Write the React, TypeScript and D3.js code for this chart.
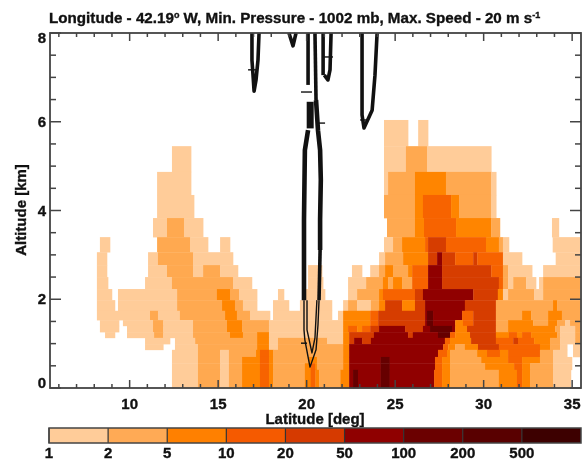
import React from "react";
import * as d3 from "d3";

const W = 582, H = 461;
const altEdges = [6.04, 5.45, 4.87, 4.35, 3.83, 3.40, 3.06, 2.77, 2.50, 2.23, 1.98, 1.74, 1.53, 1.40, 1.26, 1.13, 0.99, 0.86, 0.70, 0.56, 0.41, 0];
type Run = [number, number];
const rows: Run[][] = [
  [[24.37,1],[25.73,0],[26.3,1],[26.86,0]],
  [[12.39,1],[13.47,0],[24.37,1],[25.61,2],[26.8,1],[30.43,0]],
  [[11.55,1],[13.47,0],[24.37,1],[24.6,2],[26.12,3],[27.87,2],[30.43,1],[30.71,0]],
  [[11.55,1],[13.64,0],[24.37,2],[26.12,3],[26.57,4],[28.16,3],[28.61,2],[30.43,1],[30.71,0]],
  [[11.32,1],[12.11,2],[13.07,1],[14.15,0],[24.54,2],[26.12,3],[26.63,4],[28.44,3],[30.43,2],[30.92,0],[33.86,1],[34.25,0]],
  [[8.32,1],[8.89,0],[11.55,2],[13.41,1],[14.43,0],[15.11,1],[15.67,0],[24.37,1],[24.88,2],[25.39,3],[26.69,4],[26.86,5],[27.87,4],[30.13,3],[30.86,2],[31.09,1],[31.43,0],[33.9,1],[35.44,0]],
  [[8.15,1],[8.72,0],[11.04,1],[11.6,2],[13.58,1],[15.84,0],[24.09,1],[24.43,2],[25.45,3],[26.86,5],[27.37,6],[27.65,5],[28.39,4],[29.41,5],[29.64,4],[31.09,1],[32.17,0],[34.07,1],[35.44,0]],
  [[8.15,1],[8.72,0],[11.04,1],[12.11,2],[13.58,1],[14.15,2],[15.11,1],[16.12,0],[20.08,1],[20.87,0],[22.56,1],[23.13,0],[23.59,1],[24.09,2],[24.43,3],[24.88,2],[25.73,3],[25.96,4],[26.86,6],[27.65,5],[30.43,4],[31.09,2],[31.38,1],[32.74,0],[33.36,1],[35.44,0]],
  [[8.15,1],[8.78,0],[10.87,1],[12.39,2],[15.84,1],[16.91,0],[20.08,1],[20.93,0],[22.34,1],[23.36,2],[24.31,3],[24.6,2],[24.88,3],[25.39,2],[25.96,4],[26.86,6],[27.65,5],[30.86,4],[31.09,2],[31.38,1],[31.67,2],[32.4,1],[32.96,0],[33.13,1],[33.36,2],[35.44,0]],
  [[8.15,1],[9.0,0],[9.34,1],[12.68,2],[14.93,3],[15.67,2],[16.18,1],[17.2,0],[18.38,1],[18.72,0],[19.9,1],[21.04,0],[22.34,1],[22.85,2],[24.09,3],[24.31,4],[26.12,5],[26.57,6],[29.41,5],[30.8,3],[31.09,1],[31.38,2],[32.85,1],[33.36,2],[35.44,0]],
  [[8.15,1],[9.17,0],[9.34,1],[12.68,2],[15.22,3],[15.95,2],[16.4,1],[17.2,0],[18.1,1],[19.0,0],[19.62,1],[21.43,0],[22.06,1],[22.34,2],[22.85,1],[23.63,2],[24.09,3],[24.43,5],[25.39,3],[26.12,5],[26.69,6],[28.94,5],[30.69,2],[33.92,3],[34.15,2],[35.44,0]],
  [[8.15,1],[11.15,2],[11.6,1],[12.84,2],[15.39,3],[16.06,2],[16.8,1],[17.93,0],[18.1,1],[21.43,0],[21.77,1],[22.06,3],[23.59,4],[24.04,5],[26.69,6],[26.8,7],[27.14,6],[28.78,4],[29.41,5],[30.69,2],[32.17,3],[32.68,2],[33.64,3],[34.42,2],[35.44,0]],
  [[8.32,1],[9.4,0],[9.62,1],[11.32,2],[11.9,1],[13.58,2],[15.5,3],[16.35,2],[17.87,1],[22.06,3],[23.59,4],[24.04,5],[26.69,6],[26.8,7],[27.14,6],[28.39,3],[28.83,4],[29.41,5],[30.69,2],[31.38,3],[32.8,2],[33.64,3],[34.15,2],[34.6,1],[34.88,2],[35.44,0]],
  [[8.32,1],[9.4,0],[9.85,1],[11.32,2],[11.9,1],[13.58,2],[15.5,3],[16.35,2],[17.87,1],[22.06,3],[22.34,4],[22.85,3],[23.13,4],[23.59,5],[24.09,6],[25.56,5],[26.57,6],[26.97,7],[28.21,6],[28.39,3],[29.06,5],[30.69,2],[31.38,3],[34.04,2],[34.32,1],[35.17,2],[35.44,0]],
  [[8.61,1],[9.17,0],[9.85,1],[11.38,2],[11.9,1],[13.58,2],[15.67,3],[16.4,2],[17.2,3],[17.87,1],[22.06,3],[22.4,5],[23.8,6],[25.73,5],[26.0,6],[27.42,7],[28.1,4],[28.39,3],[29.23,5],[30.69,3],[31.43,4],[31.88,3],[32.17,4],[32.68,3],[34.15,2],[34.32,1],[35.17,2],[35.44,0]],
  [[10.87,1],[12.28,0],[12.56,1],[13.7,2],[17.2,3],[17.87,1],[18.38,2],[21.15,1],[22.06,3],[22.4,5],[22.68,6],[23.13,5],[23.63,6],[27.81,4],[28.1,3],[29.29,5],[30.69,4],[31.67,5],[31.94,4],[32.85,3],[33.75,2],[34.32,1],[35.17,2],[35.44,0]],
  [[10.87,1],[11.9,0],[12.56,1],[13.86,2],[17.2,3],[17.87,1],[18.38,2],[22.06,3],[22.4,6],[27.71,4],[28.0,3],[28.39,2],[28.94,3],[29.68,5],[30.86,4],[33.18,3],[33.75,2],[34.32,1],[34.72,0],[35.05,1],[35.44,0]],
  [[12.39,1],[13.86,2],[15.11,1],[15.61,2],[17.14,3],[17.36,4],[17.87,3],[18.1,2],[22.06,3],[22.4,6],[27.42,4],[27.93,3],[28.1,2],[29.63,3],[30.19,4],[30.92,3],[31.38,4],[33.18,2],[33.92,1],[34.72,0],[35.05,1],[35.44,0]],
  [[12.39,1],[13.86,2],[15.11,1],[15.61,2],[16.35,3],[17.36,4],[17.87,3],[18.1,2],[20.12,3],[20.58,2],[22.06,3],[22.4,6],[24.18,7],[24.69,6],[27.25,4],[27.65,3],[28.1,2],[29.86,3],[31.38,4],[32.17,3],[33.18,2],[33.92,1],[34.99,0]],
  [[12.39,1],[13.86,2],[15.11,1],[15.61,2],[16.35,3],[17.36,4],[17.87,3],[18.1,2],[19.9,3],[20.23,4],[20.47,3],[20.58,2],[22.06,3],[22.4,6],[24.18,7],[24.69,6],[27.25,4],[27.65,3],[28.1,2],[30.08,3],[31.72,4],[32.17,3],[32.62,2],[33.92,1],[34.99,0]],
  [[12.39,1],[13.86,2],[15.11,1],[15.61,2],[16.35,3],[17.36,4],[17.87,3],[18.1,2],[19.9,3],[20.23,4],[20.5,3],[20.7,2],[21.9,3],[22.4,6],[22.62,7],[22.9,6],[24.18,7],[24.69,6],[27.2,4],[27.65,3],[28.1,2],[30.86,3],[31.88,4],[32.17,3],[32.62,2],[33.92,1],[34.93,0]],
];
const levelColors = ["none", "#FFCC99", "#FFA950", "#FF8500", "#F76300", "#D63D00", "#900000", "#660000"];
const barColors = ["#FFCC99", "#FFAA55", "#FF8000", "#F55A00", "#D63A00", "#8F0000", "#6B0000", "#590000", "#3D0000"];
const barLabels = ["1", "2", "5", "10", "20", "50", "100", "200", "500"];
const xTicks = [10, 15, 20, 25, 30, 35];
const yTicks = [0, 2, 4, 6, 8];

type Pt = [number, number];
const contourHeavy: Pt[][] = [
  [[20.53,6.49],[20.64,5.81],[20.76,5.36],[20.8,4.69],[20.76,3.79],[20.76,3.11]],
  [[20.08,5.81],[19.9,5.36],[19.85,3.79],[19.85,1.98]],
  [[20.2,6.45],[20.2,5.85]],
];
const contourThick: Pt[][] = [
  [[16.91,8],[16.91,7.39],[16.97,7.05],[17.03,6.69],[17.14,6.94],[17.25,7.39],[17.31,8]],
  [[19.0,8],[19.23,7.71],[19.4,8]],
  [[20.08,8],[20.08,6.83]],
  [[20.47,8],[20.53,6.49]],
  [[20.76,3.11],[20.7,1.98]],
  [[20.93,8],[20.93,7.05]],
  [[21.38,8],[21.32,7.17],[21.2,6.94],[21.0,7.05]],
  [[23.13,8],[23.13,6.15],[23.24,5.86],[23.7,6.26],[23.86,7.05],[23.98,8]],
];
const contourThin: Pt[][] = [
  [[19.85,1.98],[19.85,1.31],[19.9,1.08],[20.19,0.47],[20.53,0.86],[20.64,1.42],[20.7,1.98]],
  [[20.02,1.98],[20.02,1.31],[20.3,0.79],[20.47,1.13],[20.58,1.98]],
];
const contourDashes: Pt[][] = [
  [[16.69,7.17],[17.2,7.17]],
  [[19.68,6.67],[20.3,6.67]],
  [[20.64,5.97],[21.04,5.97]],
  [[20.87,7.46],[21.49,7.46]],
  [[23.02,6.04],[23.41,6.04]],
  [[19.68,1.01],[20.02,1.01]],
];

const x = d3.scaleLinear().domain([5.5, 35.5]).range([50, 581]);
const y = d3.scaleLinear().domain([0, 8]).range([388, 33]);
const barX = d3.scaleBand<number>().domain(d3.range(9)).range([49, 581]);
const line = d3.line<Pt>().x(d => x(d[0])).y(d => y(d[1]));
const axisColor = "#444";
const font = "'Liberation Sans', Arial, sans-serif";

export default function App() {
  const cells: React.ReactNode[] = [];
  rows.forEach((runs, r) => {
    runs.forEach((run, i) => {
      if (run[1] === 0 || i === runs.length - 1) return;
      const x0 = x(run[0]), x1 = x(runs[i + 1][0]);
      const y0 = y(altEdges[r]), y1 = y(altEdges[r + 1]);
      cells.push(<rect key={r + "-" + i} x={x0} y={y0} width={x1 - x0 + 0.3} height={y1 - y0 + 0.3} fill={levelColors[run[1]]} />);
    });
  });
  const xMinor = d3.range(6, 36);
  const yMinor = d3.range(0, 8.01, 0.5);
  const textStroke = { stroke: "#111", strokeWidth: 0.35 };
  return (
    <svg width={W} height={H} viewBox={`0 0 ${W} ${H}`} style={{ position: "absolute", left: 0, top: 0, filter: "blur(0.5px)" }} fontFamily={font} fontWeight="bold">
      <rect x={0} y={0} width={W} height={H} fill="#fff" />
      <text x={49} y={23} fontSize={15.2} fill="#111" {...textStroke}>
        Longitude - 42.19<tspan dy={-5} fontSize={9}>o</tspan><tspan dy={5}> W, Min. Pressure - 1002 mb, Max. Speed - 20 m s</tspan><tspan dy={-5} fontSize={9}>-1</tspan>
      </text>
      <g>{cells}</g>
      <g fill="none" stroke="#111" strokeLinejoin="round">
        {contourHeavy.map((c, i) => <path key={i} d={line(c)!} strokeWidth={i === 2 ? 7 : 4.6} />)}
        {contourThick.map((c, i) => <path key={i} d={line(c)!} strokeWidth={3.6} />)}
        {contourThin.map((c, i) => <path key={i} d={line(c)!} strokeWidth={1.4} />)}
        {contourDashes.map((c, i) => <path key={i} d={line(c)!} strokeWidth={1.4} />)}
      </g>
      <g stroke={axisColor}>
        <rect x={x(5.5)} y={y(8)} width={x(35.5) - x(5.5)} height={y(0) - y(8)} fill="none" strokeWidth={1.8} />
        {xMinor.map(v => {
          const major = v % 5 === 0;
          const len = major ? 8 : 4;
          return <g key={v} strokeWidth={1.5}><line x1={x(v)} x2={x(v)} y1={y(0)} y2={y(0) - len} /><line x1={x(v)} x2={x(v)} y1={y(8)} y2={y(8) + len} /></g>;
        })}
        {yMinor.map(v => {
          const major = v % 2 === 0;
          const len = major ? 11 : 6;
          return <g key={v} strokeWidth={1.5}><line x1={x(5.5)} x2={x(5.5) + len} y1={y(v)} y2={y(v)} /><line x1={x(35.5)} x2={x(35.5) - len} y1={y(v)} y2={y(v)} /></g>;
        })}
      </g>
      <g fontSize={15} fill="#111" {...textStroke}>
        {xTicks.map(v => <text key={v} x={x(v)} y={408.5} textAnchor="middle">{v}</text>)}
        {yTicks.map(v => <text key={v} x={46} y={Math.min(Math.max(y(v), 38), 383) + 5} textAnchor="end">{v}</text>)}
        <text x={315} y={424} textAnchor="middle">Latitude [deg]</text>
        <text transform="translate(26,210) rotate(-90)" textAnchor="middle">Altitude [km]</text>
      </g>
      <g>
        {barColors.map((c, i) => <rect key={i} x={barX(i)!} y={428} width={barX.bandwidth()} height={15} fill={c} />)}
        {barColors.map((c, i) => <line key={i} x1={barX(i)!} x2={barX(i)!} y1={428} y2={443} stroke="#333" strokeWidth={1.2} />)}
        <rect x={49} y={428} width={532} height={15} fill="none" stroke={axisColor} strokeWidth={1.5} />
      </g>
      <g fontSize={15} fill="#111" {...textStroke}>
        {barLabels.map((l, i) => <text key={l} x={barX(i)!} y={457.5} textAnchor="middle">{l}</text>)}
      </g>
    </svg>
  );
}
